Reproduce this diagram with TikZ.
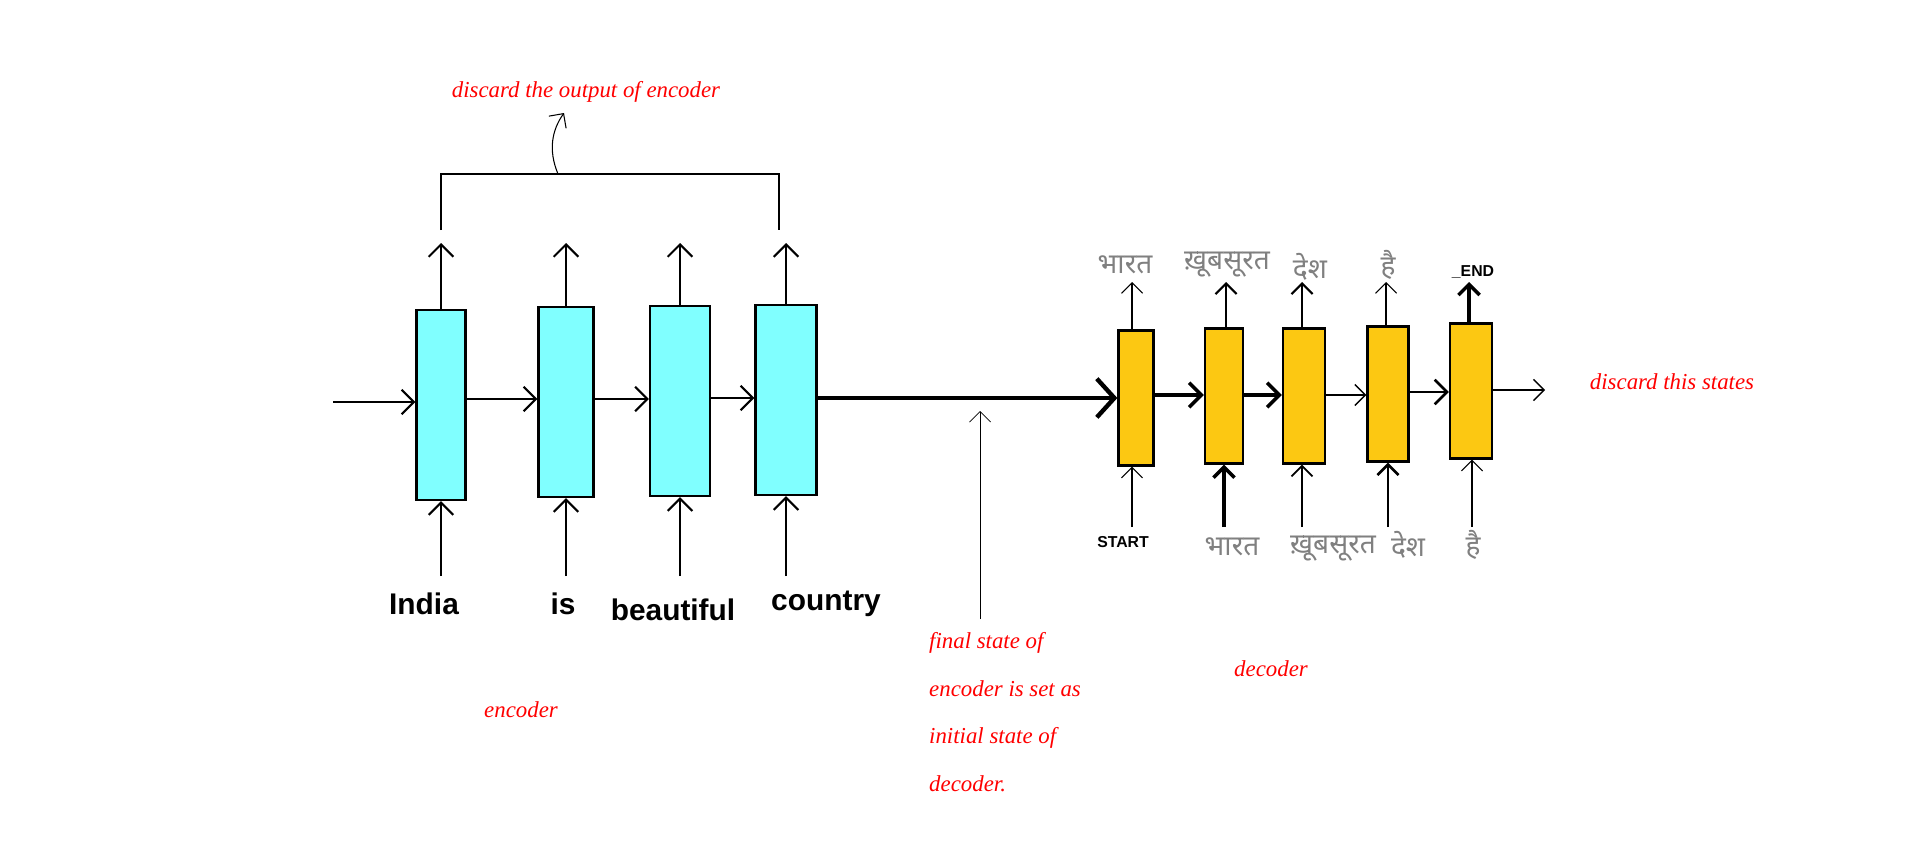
\documentclass[tikz,border=0pt]{standalone}
\usepackage{fontspec}
\setmainfont{Liberation Sans}
\newfontfamily\redf{Liberation Serif}
\newfontfamily\hin[Script=Devanagari]{Noto Sans}
\usetikzlibrary{arrows.meta}
\begin{document}
\begin{tikzpicture}[x=0.02cm,y=-0.02cm,
 enc/.style={draw,line width=1.3pt,fill={rgb,255:red,128;green,255;blue,255},minimum width=#1*0.02cm,minimum height=190*0.02cm,inner sep=0pt},
 dec/.style={draw,line width=1.3pt,fill={rgb,255:red,252;green,200;blue,18},minimum width=#1*0.02cm,minimum height=135*0.02cm,inner sep=0pt},
 ar/.style={-{Straight Barb[length=7pt,width=14pt]},line width=1.2pt},
 thin/.style={-{Straight Barb[length=6pt,width=12pt]},line width=0.6pt},
 word/.style={font=\bfseries\fontsize{17}{20}\selectfont},
 note/.style={text=red,font=\redf\itshape\fontsize{13}{16}\selectfont},
 hn/.style={text=gray,font=\hin\fontsize{16}{18}\selectfont},
 sm/.style={font=\bfseries\fontsize{9}{11}\selectfont}]
\useasboundingbox (0,0) rectangle (1912,842);
% encoder
\node[enc=49] (e1) at (441,405) {};
\node[enc=55] (e2) at (566,402) {};
\node[enc=60] (e3) at (680,401) {};
\node[enc=61] (e4) at (786,400) {};
\coordinate (in) at (333,402);
\draw[ar] (in) -- (e1.west |- in);
\draw[ar] (e1.east |- 0,399) -- (e2.west |- 0,399);
\draw[ar] (e2.east |- 0,399) -- (e3.west |- 0,399);
\draw[ar] (e3.east |- 0,398) -- (e4.west |- 0,398);
\foreach \i/\x in {1/441,2/566,3/680,4/786}{
  \draw[ar] (e\i.north) -- (\x,243);
  \draw[ar] (\x,576) -- (e\i.south);
}
\node[word] (w1) at (424,604) {India};
\node[word] (w2) at (563,604) {is};
\node[word] (w3) at (673,610) {beautiful};
\node[word] (w4) at (826,604) {country};
% bracket
\coordinate (b1) at (441,230); \coordinate (b2) at (779,230);
\coordinate (bm) at (558,174);
\draw[line width=0.6pt] (b1) -- (441,174) -- (779,174) -- (b2);
\draw[thin] (bm) .. controls (548,150) and (552,130) .. (564,113);
\node[note] (t1) at (586,92) {discard the output of encoder};
\node[note] (t2) at (521,710) {encoder};
% decoder
\node[dec=35] (d1) at (1136,398) {};
\node[dec=38] (d2) at (1224,396) {};
\node[dec=42] (d3) at (1304,396) {};
\node[dec=41] (d4) at (1388,394) {};
\node[dec=42] (d5) at (1471,391) {};
\draw[-{Straight Barb[length=10pt,width=22pt]},line width=2.5pt] (e4.east |- 0,398) -- (d1.west |- 0,398);
\coordinate (fs) at (980,619);
\draw[thin,line width=0.4pt] (fs) -- (980,411);
\draw[ar,line width=2pt] (d1.east |- 0,395) -- (d2.west |- 0,395);
\draw[ar,line width=2pt] (d2.east |- 0,395) -- (d3.west |- 0,395);
\draw[thin,line width=0.8pt] (d3.east |- 0,395) -- (d4.west |- 0,395);
\draw[ar,line width=1.5pt] (d4.east |- 0,392) -- (d5.west |- 0,392);
\coordinate (out) at (1545,390);
\draw[thin,line width=0.8pt] (d5.east |- out) -- (out);
\foreach \i/\x/\w in {1/1132/0.6,2/1226/1.2,3/1302/1.2,4/1386/0.6,5/1469/2}{
  \draw[thin,line width=\w pt] (d\i.north -| \x,0) -- (\x,282);
}
\foreach \i/\x/\w in {1/1132/0.6,2/1224/2,3/1302/1,4/1388/1.5,5/1472/0.6}{
  \draw[thin,line width=\w pt] (\x,527) -- (d\i.south -| \x,0);
}
\node[hn] (o1) at (1125,265) {भारत};
\node[hn] (o2) at (1227,265) {ख़ूबसूरत};
\node[hn] (o3) at (1310,267) {देश};
\node[hn] (o4) at (1388,265) {है};
\node[sm] (o5) at (1473,272) {\_END};
\node[sm] (i1) at (1123,542) {START};
\node[hn] (i2) at (1232,547) {भारत};
\node[hn] (i3) at (1333,549) {ख़ूबसूरत};
\node[hn] (i4) at (1408,545) {देश};
\node[hn] (i5) at (1473,545) {है};
\node[note] (t3) at (1672,382) {discard this states};
\node[note] (t4) at (1271,669) {decoder};
\node[note,anchor=west,align=left,font=\redf\itshape\fontsize{13}{27}\selectfont] (t5) at (923,712)
 {final state of\\encoder is set as\\initial state of\\decoder.};
\end{tikzpicture}
\end{document}
